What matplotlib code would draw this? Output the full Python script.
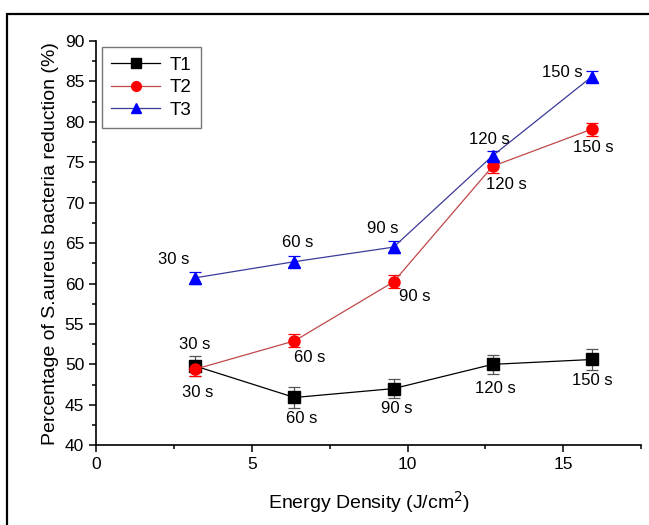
import matplotlib
matplotlib.use("Agg")
from matplotlib import pyplot as plt
from matplotlib.patches import Rectangle
from matplotlib.lines import Line2D
from matplotlib.ticker import MultipleLocator

plt.rcParams['font.family'] = ['Liberation Sans', 'DejaVu Sans']

energy = [3.18, 6.37, 9.55, 12.73, 15.92]
times = ['30 s', '60 s', '90 s', '120 s', '150 s']

t1 = [49.8, 45.9, 47.0, 50.0, 50.6]
t1_err = [1.2, 1.3, 1.2, 1.2, 1.3]
t2 = [49.4, 52.9, 60.2, 74.5, 79.1]
t2_err = [0.8, 0.8, 0.8, 0.8, 0.8]
t3 = [60.7, 62.7, 64.5, 75.8, 85.6]
t3_err = [0.7, 0.7, 0.7, 0.6, 0.7]

# label offsets in pixels (dx, dy) for each point
t1_off = [(0, 21), (7, -21), (3, -20), (3, -24), (0, -21)]
t2_off = [(3, -23), (15, -17), (21, -15), (14, -18), (1, -18)]
t3_off = [(-21, 18), (3, 19), (-11, 19), (-3, 16), (-30, 4)]

fig = plt.figure(figsize=(6.49, 5.25), dpi=100)
ax = fig.add_axes([0.148, 0.152, 0.84, 0.77])

series = [
    (t1, t1_err, 'T1', 's', 'black', 'black', t1_off),
    (t2, t2_err, 'T2', 'o', '#c04848', 'red', t2_off),
    (t3, t3_err, 'T3', '^', '#3a3a9a', 'blue', t3_off),
]
handles = []
for vals, err, name, mk, lc, mc, offs in series:
    ax.errorbar(energy, vals, yerr=err, color=lc, marker=mk, markersize=8,
                markerfacecolor=mc, markeredgecolor=mc, linewidth=0.9,
                elinewidth=0.9, ecolor='#555555' if mc == 'black' else mc,
                capsize=4, capthick=0.9)
    handles.append(Line2D([], [], color=lc, marker=mk, markersize=7,
                          markerfacecolor=mc, markeredgecolor=mc,
                          linewidth=0.9, label=name))
    for x, y, t, (dx, dy) in zip(energy, vals, times, offs):
        ax.annotate(t, (x, y), xytext=(dx, dy), textcoords='offset pixels',
                    ha='center', va='center', fontsize=12)

ax.set_xlim(0, 17.5)
ax.set_ylim(40, 90)
ax.xaxis.set_major_locator(MultipleLocator(5))
ax.xaxis.set_minor_locator(MultipleLocator(2.5))
ax.yaxis.set_major_locator(MultipleLocator(5))
ax.yaxis.set_minor_locator(MultipleLocator(2.5))
ax.tick_params(which='major', length=5, width=1.1, labelsize=12.5)
ax.tick_params(which='minor', length=3, width=1.1)
ax.spines['top'].set_visible(False)
ax.spines['right'].set_visible(False)
ax.spines['left'].set_linewidth(1.2)
ax.spines['bottom'].set_linewidth(1.2)

ax.set_xlabel('Energy Density (J/cm$^2$)', fontsize=14, labelpad=12)
ax.set_ylabel('Percentage of S.aureus bacteria reduction (%)', fontsize=14,
              labelpad=4)

leg = ax.legend(handles=handles, loc='upper left',
                bbox_to_anchor=(0.011, 0.985), borderaxespad=0, fontsize=13.5,
                frameon=True, fancybox=False, edgecolor='#555555',
                handlelength=2.6, handletextpad=0.5, borderpad=0.5,
                labelspacing=0.3)
leg.get_frame().set_linewidth(1.0)

fig.patches.append(Rectangle((7 / 649, -0.1), 1.2, 1 - 14 / 525 + 0.1,
                             transform=fig.transFigure, fill=False,
                             edgecolor='black', linewidth=1.6))

fig.savefig('out.png', dpi=100)
